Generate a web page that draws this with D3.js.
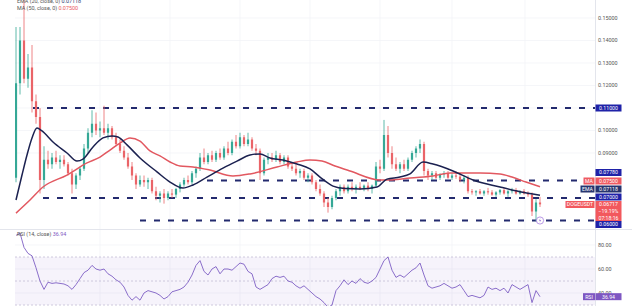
<!DOCTYPE html>
<html><head><meta charset="utf-8">
<script src="https://cdn.jsdelivr.net/npm/d3@7"></script>
<style>html,body{margin:0;padding:0;background:#fff;overflow:hidden}svg{display:block}text{font-family:Roboto,"Noto Sans",sans-serif}</style>
</head><body>
<svg id="c" width="632" height="306"></svg>
<script>
// ---- candle data (daily-ish, index 0..131) ----
const opens  = [.079,.121,.140,.123,.128,.113,.106,.078,.087,.085,.088,.086,.087,.085,.081,.076,.080,.083,.092,.099,.103,.100,.101,.099,.101,.097,.094,.091,.088,.084,.080,.076,.078,.077,.078,.073,.071,.072,.070,.072,.0715,.074,.076,.078,.077,.081,.083,.088,.086,.089,.087,.090,.088,.092,.090,.095,.093,.097,.094,.096,.092,.091,.081,.087,.088,.087,.089,.086,.088,.084,.083,.081,.082,.079,.080,.077,.074,.072,.068,.066,.070,.073,.075,.073,.075,.074,.075,.074,.0755,.074,.0755,.084,.083,.098,.090,.085,.083,.085,.083,.087,.090,.092,.094,.082,.080,.081,.079,.0805,.081,.079,.080,.0795,.078,.079,.073,.0725,.073,.072,.073,.0725,.0715,.0725,.0735,.072,.073,.0735,.072,.073,.072,.0715,.064,.068];
const highs  = [.146,.146,.158,.134,.138,.116,.110,.093,.091,.090,.091,.089,.089,.086,.083,.081,.084,.094,.101,.109,.108,.104,.111,.103,.102,.099,.096,.093,.090,.086,.081,.080,.080,.079,.079,.075,.073,.074,.073,.074,.0745,.077,.079,.080,.082,.084,.090,.092,.090,.091,.091,.092,.093,.095,.096,.098,.099,.098,.099,.097,.094,.092,.088,.090,.090,.091,.090,.089,.089,.086,.085,.083,.083,.081,.081,.078,.076,.073,.070,.071,.074,.076,.076,.076,.077,.076,.077,.076,.077,.076,.086,.087,.1047,.102,.093,.088,.086,.087,.088,.091,.093,.096,.095,.083,.082,.082,.081,.082,.082,.081,.082,.081,.080,.080,.074,.0735,.074,.0735,.0745,.0735,.073,.074,.0745,.0735,.0745,.0745,.0735,.074,.073,.0725,.0695,.0705];
const lows   = [.077,.116,.121,.119,.108,.103,.072,.074,.083,.083,.085,.083,.084,.080,.072,.074,.078,.082,.090,.097,.098,.097,.098,.096,.096,.093,.090,.087,.083,.078,.074,.075,.075,.074,.072,.069,.068,.0675,.069,.070,.070,.0725,.075,.076,.076,.079,.082,.085,.085,.086,.086,.087,.087,.089,.089,.092,.092,.093,.093,.091,.089,.078,.080,.085,.086,.086,.085,.085,.083,.082,.080,.079,.078,.077,.076,.073,.071,.066,.0635,.065,.069,.071,.072,.072,.073,.072,.0735,.073,.073,.072,.075,.081,.082,.088,.083,.082,.081,.082,.082,.086,.088,.090,.080,.078,.078,.0785,.078,.079,.0785,.078,.0785,.077,.0765,.072,.0715,.071,.0715,.071,.0715,.071,.0705,.0715,.0715,.0705,.072,.0715,.0715,.0715,.0705,.062,.0597,.066];
const closes = [.121,.140,.123,.128,.113,.106,.078,.087,.085,.088,.086,.087,.085,.081,.076,.080,.083,.092,.099,.103,.100,.101,.099,.101,.097,.094,.091,.088,.084,.080,.076,.078,.077,.078,.073,.071,.072,.070,.072,.0715,.074,.076,.078,.077,.081,.083,.088,.086,.089,.087,.090,.088,.092,.090,.095,.093,.097,.094,.096,.092,.091,.081,.087,.088,.087,.089,.086,.088,.084,.083,.081,.082,.079,.080,.077,.074,.072,.068,.066,.070,.073,.075,.073,.075,.074,.075,.074,.0755,.074,.0755,.084,.083,.098,.090,.085,.083,.085,.083,.087,.090,.092,.094,.082,.080,.081,.079,.0805,.081,.079,.080,.0795,.078,.079,.073,.0725,.073,.072,.073,.0725,.0715,.0725,.0735,.072,.073,.0735,.072,.073,.072,.0715,.064,.068,.06717];

// ---- indicator lines (read at candle positions) ----
const emaIdx = [0,1.5,2.75,4,5.25,6.5,9.25,12.75,15.25,16.75,19.25,21.75,24,25.5,27.75,31,35.25,38.5,41.75,44.25,47.75,51.75,55.25,58.5,61,63.5,66.75,70.25,73.5,76,79.25,82.25,86,90.25,92.75,96,98.5,101.75,104.25,109.25,114.25,121,125.25,131];
const emaVal = [.0691,.0802,.0891,.0967,.1011,.0998,.0949,.0900,.0864,.0873,.0927,.0967,.0976,.0971,.0936,.0878,.0816,.0771,.0744,.0758,.0793,.0833,.0864,.0891,.0896,.0878,.0869,.0851,.0829,.0793,.0753,.0742,.0740,.0749,.0784,.0793,.0807,.0860,.0851,.0820,.0780,.0749,.0731,.07118];
const maIdx  = [0,3.5,6.75,12.75,17.75,21,23.5,26,28.5,31,33.5,36,38.5,41,44.25,48.5,54.25,58.5,65.25,70.25,73.5,76.5,79.75,83.5,91,94,98.5,104.25,108.5,116,121,124,127.5,131];
const maVal  = [.0633,.0691,.0749,.0802,.0856,.0882,.0913,.0944,.0967,.0953,.0909,.0887,.0860,.0842,.0838,.0824,.0798,.0807,.0838,.0860,.0869,.0864,.0842,.0820,.0780,.0780,.0789,.0798,.0811,.0811,.0807,.0793,.0771,.0750];

// ---- RSI (14) per candle ----
const rsi = [88,90,78,73,71,61,50,43,49,48,48.5,48,47.5,46,43,47,52,57,59,63,60,59,60,56,54,51,49,45,38,34,37,34,40,42,41,40,38,35,37,41,42,43,45,49,55,63,67,58,55,60,62,56,60,60,59,62,65,64,58,56,45,43,45,47,52,54,53,54,50,49,46,44,46,43,40,37,35,32,28,30,42,46,51,47,50,48,52,49,48,50,53,60,67,70,59,53,55,53,56,59,61,65,55,46,44,45,46,48,46,44,45,47,42,37,38,37,36,38,45,43,44,42,44,40,47,45,43,45,47,32,42,36.94];

// ---- levels & ticks ----
const levels = [{v:0.11, from:4.25},{v:0.0778, from:47.75},{v:0.07, from:6.75},{v:0.06, from:31}];
const priceTicks = [0.15,0.14,0.13,0.12,0.11,0.10,0.09];
const rsiTicks = [80,60,40];
const rsiBands = [70,50,30];
const gridIdx = [21,38.5,56,73.5,91,109,127.25];
const lastEma = 0.07118, lastMa = 0.075, lastClose = 0.06717, lastRsi = 36.94;

const svg = d3.select("#c");
const W = 632, H = 306, L = 15, R = 595, PT = 0, PB = 229, RT = 230, RB = 306;
const x = d3.scaleLinear().domain([0,131]).range([16,540]);
const y = d3.scaleLinear().domain([0.06,0.15]).range([220.5,18]);
const yr = d3.scaleLinear().domain([30,80]).range([305,245]);

svg.append("rect").attr("width",W).attr("height",H).attr("fill","#fff");
const defs = svg.append("defs");
defs.append("clipPath").attr("id","cp").append("rect").attr("x",L).attr("y",PT).attr("width",R-L).attr("height",PB-PT);
defs.append("clipPath").attr("id","cr").append("rect").attr("x",L).attr("y",RT).attr("width",R-L).attr("height",RB-RT);

// grids
const grid = svg.append("g").attr("stroke","#f0f2f7").attr("stroke-width",0.7);
gridIdx.forEach(g=>{ grid.append("line").attr("x1",x(g)).attr("x2",x(g)).attr("y1",PT).attr("y2",RB); });
priceTicks.forEach(t=>{ grid.append("line").attr("x1",L).attr("x2",R).attr("y1",y(t)).attr("y2",y(t)); });
rsiTicks.forEach(t=>{ grid.append("line").attr("x1",L).attr("x2",R).attr("y1",yr(t)).attr("y2",yr(t)); });

// separators
svg.append("line").attr("x1",0).attr("x2",W).attr("y1",PB+0.5).attr("y2",PB+0.5).attr("stroke","#e3e5ec").attr("stroke-width",1);
svg.append("line").attr("x1",R+0.5).attr("x2",R+0.5).attr("y1",0).attr("y2",H).attr("stroke","#e3e5ec").attr("stroke-width",1);

// price pane
const pp = svg.append("g").attr("clip-path","url(#cp)");
levels.forEach(l=>{
  pp.append("line").attr("x1",x(l.from)).attr("x2",R).attr("y1",y(l.v)).attr("y2",y(l.v))
    .attr("stroke","#232a6e").attr("stroke-width",2).attr("stroke-dasharray","6,8");
});
const up="#35a896", dn="#ea6468";
const cg = pp.append("g");
opens.forEach((o,i)=>{
  const c = closes[i], col = c>=o?up:dn;
  cg.append("line").attr("x1",x(i)).attr("x2",x(i)).attr("y1",y(highs[i])).attr("y2",y(lows[i])).attr("stroke",col).attr("stroke-width",0.8);
  const t = y(Math.max(o,c)), b = y(Math.min(o,c));
  cg.append("rect").attr("x",x(i)-1.1).attr("width",2.2).attr("y",t).attr("height",Math.max(0.8,b-t)).attr("fill",col);
});
const lineP = d3.line().curve(d3.curveMonotoneX);
pp.append("path").attr("d",lineP(maIdx.map((d,i)=>[x(d),y(maVal[i])]))).attr("fill","none").attr("stroke","#e25860").attr("stroke-width",1.5);
pp.append("path").attr("d",lineP(emaIdx.map((d,i)=>[x(d),y(emaVal[i])]))).attr("fill","none").attr("stroke","#1b2150").attr("stroke-width",1.5);

// lightning icon
const ic = svg.append("g").attr("transform",`translate(${x(131)},${y(0.06)})`);
ic.append("circle").attr("r",3.6).attr("fill","#fff").attr("stroke","#a77fe0").attr("stroke-width",0.8);
ic.append("path").attr("d","M0.6,-2.4 L-1.2,0.3 L0.1,0.3 L-0.6,2.4 L1.2,-0.4 L-0.1,-0.4 Z").attr("fill","#a77fe0");

// legend
const lg = svg.append("g").attr("font-size",5.4);
const t1 = lg.append("text").attr("x",17).attr("y",3.4).attr("fill","#555");
t1.append("tspan").text("EMA (20, close, 0)  ");
t1.append("tspan").attr("fill","#27346e").text(lastEma.toFixed(5));
const t2 = lg.append("text").attr("x",17).attr("y",10.2).attr("fill","#555");
t2.append("tspan").text("MA (50, close, 0)  ");
t2.append("tspan").attr("fill","#ea5a5f").text(lastMa.toFixed(5));

// price axis ticks
const ax = svg.append("g").attr("font-size",5.4).attr("fill","#555");
priceTicks.forEach(t=>{ ax.append("text").attr("x",598).attr("y",y(t)).attr("dy","0.35em").text(t.toFixed(5)); });

// label boxes (stacked like the platform does)
function box(cy, lines, fill, tag, tagW){
  const h = 7 + (lines.length-1)*6.6;
  const g = svg.append("g").attr("font-size",5.2);
  g.append("rect").attr("x",R+0.5).attr("y",cy-3.5).attr("width",26).attr("height",h).attr("fill",fill);
  lines.forEach((s,k)=> g.append("text").attr("x",R+13.5).attr("y",cy+k*6.6).attr("dy","0.36em").attr("text-anchor","middle").attr("fill","#fff").text(s));
  if(tag){
    g.append("rect").attr("x",R-0.5-tagW).attr("y",cy-3.5).attr("width",tagW).attr("height",7).attr("fill",fill);
    g.append("text").attr("x",R-0.5-tagW/2).attr("y",cy).attr("dy","0.36em").attr("text-anchor","middle").attr("fill","#fff").text(tag);
  }
}
const lvBlue = "#1f22a8";
box(y(0.11), [ (0.11).toFixed(5) ], lvBlue);
box(172.5, [ (0.0778).toFixed(5) ], lvBlue);
box(181, [ lastMa.toFixed(5) ], "#ef5b62", "MA", 11);
box(189, [ lastEma.toFixed(5) ], "#27346e", "EMA", 14);
box(197, [ (0.07).toFixed(5) ], lvBlue);
box(204.5, [ lastClose.toFixed(5), "−19.19%", "07:18:16" ], "#f2585d", "DOGEUSDT", 29);
box(224.5, [ (0.06).toFixed(5) ], lvBlue);

// RSI pane
const rp = svg.append("g").attr("clip-path","url(#cr)");
rp.append("rect").attr("x",L).attr("width",R-L).attr("y",yr(70)).attr("height",yr(30)-yr(70)).attr("fill","#7e57c2").attr("opacity",0.07);
rsiBands.forEach(b=> rp.append("line").attr("x1",L).attr("x2",R).attr("y1",yr(b)).attr("y2",yr(b)).attr("stroke","#c4bcd6").attr("stroke-width",0.8).attr("stroke-dasharray","2,2"));
rp.append("path").attr("d",d3.line()(rsi.map((v,i)=>[x(i),yr(v)]))).attr("fill","none").attr("stroke","#7e5fc4").attr("stroke-width",0.9);
const rl = svg.append("text").attr("x",17).attr("y",236).attr("font-size",5.4).attr("fill","#555");
rl.append("tspan").text("RSI (14, close)  ");
rl.append("tspan").attr("fill","#7e57c2").text(lastRsi.toFixed(2));
const rax = svg.append("g").attr("font-size",5.4).attr("fill","#555");
rsiTicks.forEach(t=> rax.append("text").attr("x",598).attr("y",yr(t)).attr("dy","0.35em").text(t.toFixed(2)));
// RSI value tag
const rg = svg.append("g").attr("font-size",5.2);
const ry = yr(lastRsi);
rg.append("rect").attr("x",583).attr("y",ry-3.5).attr("width",12).attr("height",7).attr("fill","#7e57c2");
rg.append("text").attr("x",589).attr("y",ry).attr("dy","0.36em").attr("text-anchor","middle").attr("fill","#fff").text("RSI");
rg.append("rect").attr("x",R+0.5).attr("y",ry-3.5).attr("width",26).attr("height",7).attr("fill","#7e57c2");
rg.append("text").attr("x",R+13.5).attr("y",ry).attr("dy","0.36em").attr("text-anchor","middle").attr("fill","#fff").text(lastRsi.toFixed(2));
</script>
</body></html>
